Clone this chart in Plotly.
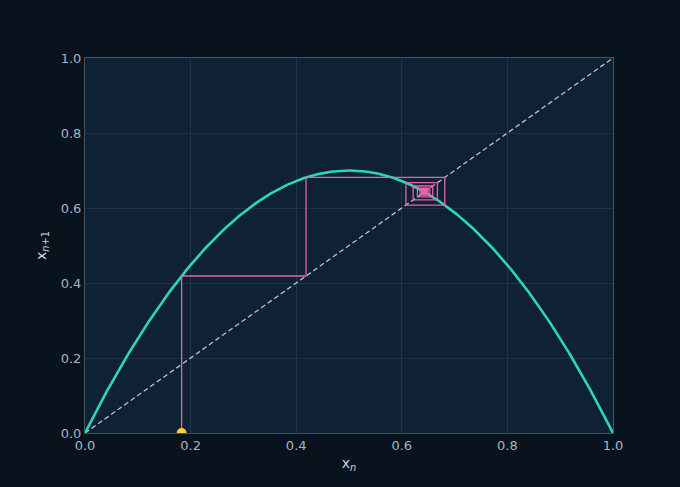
import numpy as np
import plotly.graph_objects as go

# Logistic map parameters
r_param = 2.8          # peak of the curve at 0.7 => r/4 = 0.7
x_start = 0.183        # starting point of the cobweb (yellow marker)
n_iter = 60
diag_x = [0.0, 1.0]
diag_y = [0.0, 1.0]
tick_vals = [0, 0.2, 0.4, 0.6, 0.8, 1.0]
tick_text = ["0.0", "0.2", "0.4", "0.6", "0.8", "1.0"]

xs = np.linspace(0, 1, 801)
ys = r_param * xs * (1 - xs)

cx, cy = [x_start], [0.0]
x = x_start
for _ in range(n_iter):
    y = r_param * x * (1 - x)
    cx += [x, y]
    cy += [y, y]
    x = y

fig = go.Figure()
fig.add_trace(go.Scatter(x=diag_x, y=diag_y, mode="lines",
                         line=dict(color="#b4c4d4", width=1.3, dash="5px,3px"),
                         hoverinfo="skip", showlegend=False))
fig.add_trace(go.Scatter(x=xs, y=ys, mode="lines",
                         line=dict(color="#2dd4bf", width=2.6),
                         showlegend=False))
fig.add_trace(go.Scatter(x=cx, y=cy, mode="lines",
                         line=dict(color="#ee5fb0", width=1.3),
                         showlegend=False))
fig.add_trace(go.Scatter(x=[x_start], y=[0], mode="markers",
                         marker=dict(color="#f7cc3e", size=10),
                         cliponaxis=True, showlegend=False))

axis_common = dict(range=[0, 1], tickvals=tick_vals, ticktext=tick_text,
                   showgrid=True, gridcolor="#1f3446", gridwidth=1,
                   zeroline=False, showline=True, linecolor="#3e5467",
                   linewidth=1, mirror=True, ticks="",
                   tickfont=dict(color="#a3b3c2", size=13, family="DejaVu Sans"))

fig.update_layout(
    width=680, height=487,
    margin=dict(l=85, r=67, t=58, b=54),
    paper_bgcolor="#08131d",
    plot_bgcolor="#0f2233",
    font=dict(family="DejaVu Sans", color="#c9d4de"),
    xaxis=dict(**axis_common, title=dict(text="x<sub><i>n</i></sub>", standoff=6,
               font=dict(size=14, color="#c9d4de"))),
    yaxis=dict(**axis_common, title=dict(text="x<sub><i>n</i>+1</sub>", standoff=10,
               font=dict(size=14, color="#c9d4de"))),
)

fig.write_html("out.html", config={"displayModeBar": False},
               post_script="document.body.style.margin='0';document.body.style.background='#08131d';")
